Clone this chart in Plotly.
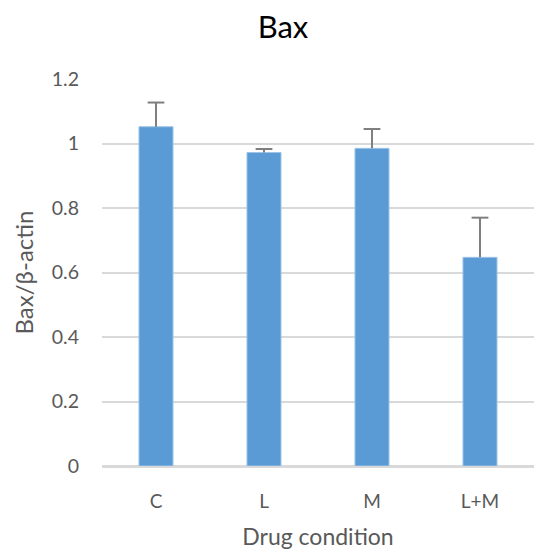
import plotly.graph_objects as go

categories = ["C", "L", "M", "L+M"]
values = [1.052, 0.972, 0.985, 0.647]
errors_plus = [0.075, 0.011, 0.060, 0.123]
y_ticks = [0, 0.2, 0.4, 0.6, 0.8, 1, 1.2]
y_tick_labels = ["0", "0.2", "0.4", "0.6", "0.8", "1", "1.2"]

font_family = "Lato, Open Sans, sans-serif"
text_color = "#595959"
err_color = "#7F7F7F"

cap_tops = [v + e for v, e in zip(values, errors_plus)]

fig = go.Figure()
fig.add_trace(
    go.Bar(
        x=categories,
        y=values,
        marker=dict(color="#5B9BD5", line=dict(color="#9DC3E6", width=1)),
        error_y=dict(
            type="data",
            symmetric=False,
            array=errors_plus,
            arrayminus=[0] * len(errors_plus),
            color=err_color,
            thickness=2,
            width=0,
        ),
        width=0.315,
        hoverinfo="skip",
    )
)
# caps on top of the error bars only (no "shoe" at bar top)
fig.add_trace(
    go.Scatter(
        x=categories,
        y=cap_tops,
        mode="markers",
        marker=dict(symbol="line-ew", size=12, line=dict(color=err_color, width=2)),
        hoverinfo="skip",
    )
)

fig.update_layout(
    width=544,
    height=554,
    paper_bgcolor="white",
    plot_bgcolor="white",
    margin=dict(l=94, r=18, t=71, b=96),
    showlegend=False,
    title=dict(
        text="Bax",
        x=0.5055,
        xanchor="center",
        y=0.966,
        yanchor="middle",
        font=dict(family=font_family, size=31, color="#000000"),
    ),
    font=dict(family=font_family, color=text_color),
)

fig.update_xaxes(
    title=dict(text="Drug condition", font=dict(size=23, color=text_color), standoff=18),
    tickfont=dict(size=19, color=text_color),
    showgrid=False,
    showline=True,
    linecolor="#D9D9D9",
    linewidth=1.5,
    ticks="",
    ticklabelstandoff=17,
)

fig.update_yaxes(
    title=dict(text="Bax/β-actin", font=dict(size=24, color=text_color), standoff=11),
    range=[0, 1.2],
    tickvals=y_ticks,
    ticktext=y_tick_labels,
    tickfont=dict(size=19.5, color=text_color),
    showgrid=True,
    gridcolor="#D9D9D9",
    gridwidth=1.5,
    zeroline=True,
    zerolinecolor="#D9D9D9",
    zerolinewidth=1.5,
    ticks="",
    ticklabelstandoff=22,
)

fig.write_html("out.html")
